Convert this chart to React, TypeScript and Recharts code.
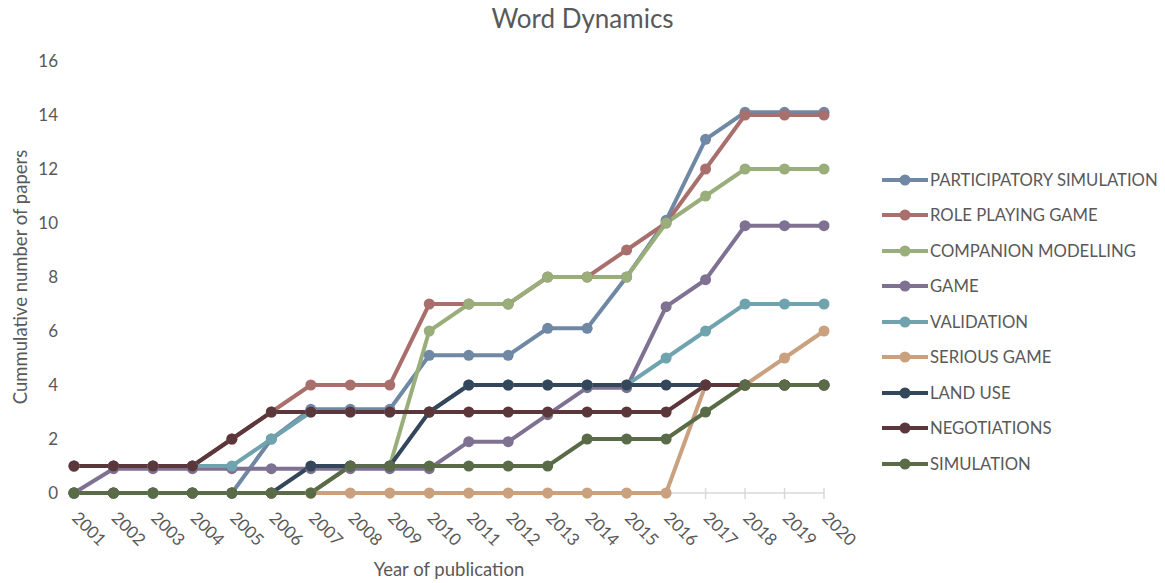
import { LineChart, Line, XAxis, YAxis, Legend, CartesianGrid } from 'recharts'

const years = ['2001', '2002', '2003', '2004', '2005', '2006', '2007', '2008', '2009', '2010',
    '2011', '2012', '2013', '2014', '2015', '2016', '2017', '2018', '2019', '2020']

const participatory = [0, 0, 0, 0, 0, 2, 3.1, 3.1, 3.1, 5.1, 5.1, 5.1, 6.1, 6.1, 8, 10.1, 13.1, 14.1, 14.1, 14.1]
const rolePlaying = [1, 1, 1, 1, 2, 3, 4, 4, 4, 7, 7, 7, 8, 8, 9, 10, 12, 14, 14, 14]
const companion = [0, 0, 0, 0, 0, 0, 0, 1, 1, 6, 7, 7, 8, 8, 8, 10, 11, 12, 12, 12]
const game = [0, 0.9, 0.9, 0.9, 0.9, 0.9, 0.9, 0.9, 0.9, 0.9, 1.9, 1.9, 2.9, 3.9, 3.9, 6.9, 7.9, 9.9, 9.9, 9.9]
const validation = [1, 1, 1, 1, 1, 2, 3, 3, 3, 3, 4, 4, 4, 4, 4, 5, 6, 7, 7, 7]
const seriousGame = [0, 0, 0, 0, 0, 0, 0, 0, 0, 0, 0, 0, 0, 0, 0, 0, 4, 4, 5, 6]
const landUse = [0, 0, 0, 0, 0, 0, 1, 1, 1, 3, 4, 4, 4, 4, 4, 4, 4, 4, 4, 4]
const negotiations = [1, 1, 1, 1, 2, 3, 3, 3, 3, 3, 3, 3, 3, 3, 3, 3, 4, 4, 4, 4]
const simulation = [0, 0, 0, 0, 0, 0, 0, 1, 1, 1, 1, 1, 1, 2, 2, 2, 3, 4, 4, 4]

const yTicks = [0, 2, 4, 6, 8, 10, 12, 14, 16]

const series = [
    { key: 'participatory', name: 'PARTICIPATORY SIMULATION', color: '#6f88a4', values: participatory },
    { key: 'rolePlaying', name: 'ROLE PLAYING GAME', color: '#a86f6c', values: rolePlaying },
    { key: 'companion', name: 'COMPANION MODELLING', color: '#9aae7b', values: companion },
    { key: 'game', name: 'GAME', color: '#7e7192', values: game },
    { key: 'validation', name: 'VALIDATION', color: '#6fa3ae', values: validation },
    { key: 'seriousGame', name: 'SERIOUS GAME', color: '#c9a17f', values: seriousGame },
    { key: 'landUse', name: 'LAND USE', color: '#34465a', values: landUse },
    { key: 'negotiations', name: 'NEGOTIATIONS', color: '#5b363a', values: negotiations },
    { key: 'simulation', name: 'SIMULATION', color: '#5a6b47', values: simulation },
]

const data = years.map((year, i) => {
    const row: any = { year }
    series.forEach(s => { row[s.key] = s.values[i] })
    return row
})

const FONT = 'Lato, "Liberation Sans", sans-serif'
const TEXT = '#595959'
const AXIS = '#d9d9d9'

// year labels run diagonally down to the right from each tick
const YearTick = ({ x, y, payload }: any) => (
    <text x={0} y={0} transform={`translate(${x - 3},${y + 26}) rotate(45)`} fill={TEXT}
        fontSize={17} fontFamily={FONT} textAnchor="start">
        {payload.value}
    </text>
)

const renderLegend = () => (
    <div style={{ fontFamily: FONT, fontSize: 16.7, color: TEXT }}>
        {series.map(s => (
            <div key={s.key} style={{ height: 35.5, display: 'flex', alignItems: 'center' }}>
                <svg width={48} height={14} style={{ flex: 'none' }}>
                    <line x1={0} x2={46} y1={7} y2={7} stroke={s.color} strokeWidth={4} />
                    <circle cx={23} cy={7} r={5.5} fill={s.color} />
                </svg>
                <span style={{ whiteSpace: 'nowrap' }}>{s.name}</span>
            </div>
        ))}
    </div>
)

export default function App() {
    return (
        <div style={{ position: 'absolute', left: 0, top: 0, width: 1165, height: 583, background: '#fff' }}>
            <div style={{
                position: 'absolute', left: 0, width: 1165, top: 2, textAlign: 'center',
                fontFamily: FONT, fontSize: 26, color: TEXT, lineHeight: 'normal'
            }}>
                Word Dynamics
            </div>
            <LineChart width={1165} height={583} data={data}
                margin={{ top: 61, right: 341, bottom: 30, left: 0 }}>
                {/* baseline at zero, kept under the series */}
                <CartesianGrid vertical={false} horizontalValues={[0]} stroke={AXIS} strokeWidth={1.5} />
                {/* short cross tick marks on the category axis */}
                <CartesianGrid horizontal={false} y={488} height={11} stroke={AXIS} strokeWidth={1.5} />
                <XAxis dataKey="year" height={60} tick={<YearTick />} tickLine={false}
                    tickSize={0} tickMargin={0} interval={0} axisLine={false}
                    label={{ value: 'Year of publication', position: 'bottom', offset: 10, fill: TEXT, fontSize: 18.5, fontFamily: FONT }} />
                <YAxis width={74} domain={[0, 16]} ticks={yTicks} axisLine={false} tickLine={false}
                    tickSize={0} tickMargin={16}
                    tick={{ fill: TEXT, fontSize: 17, fontFamily: FONT }}
                    label={{ value: 'Cummulative number of papers', angle: -90, position: 'insideLeft', offset: 20, fill: TEXT, fontSize: 18.5, fontFamily: FONT, style: { textAnchor: 'middle' } }} />
                <Legend layout="vertical" align="center" verticalAlign="middle" content={renderLegend}
                    wrapperStyle={{ left: 882, top: 162, width: 283 }} />
                {series.map(s => (
                    <Line key={s.key} dataKey={s.key} name={s.name} stroke={s.color} strokeWidth={4}
                        dot={{ r: 5.5, fill: s.color, stroke: s.color, strokeWidth: 0 }}
                        activeDot={false} isAnimationActive={false} />
                ))}
            </LineChart>
        </div>
    )
}
